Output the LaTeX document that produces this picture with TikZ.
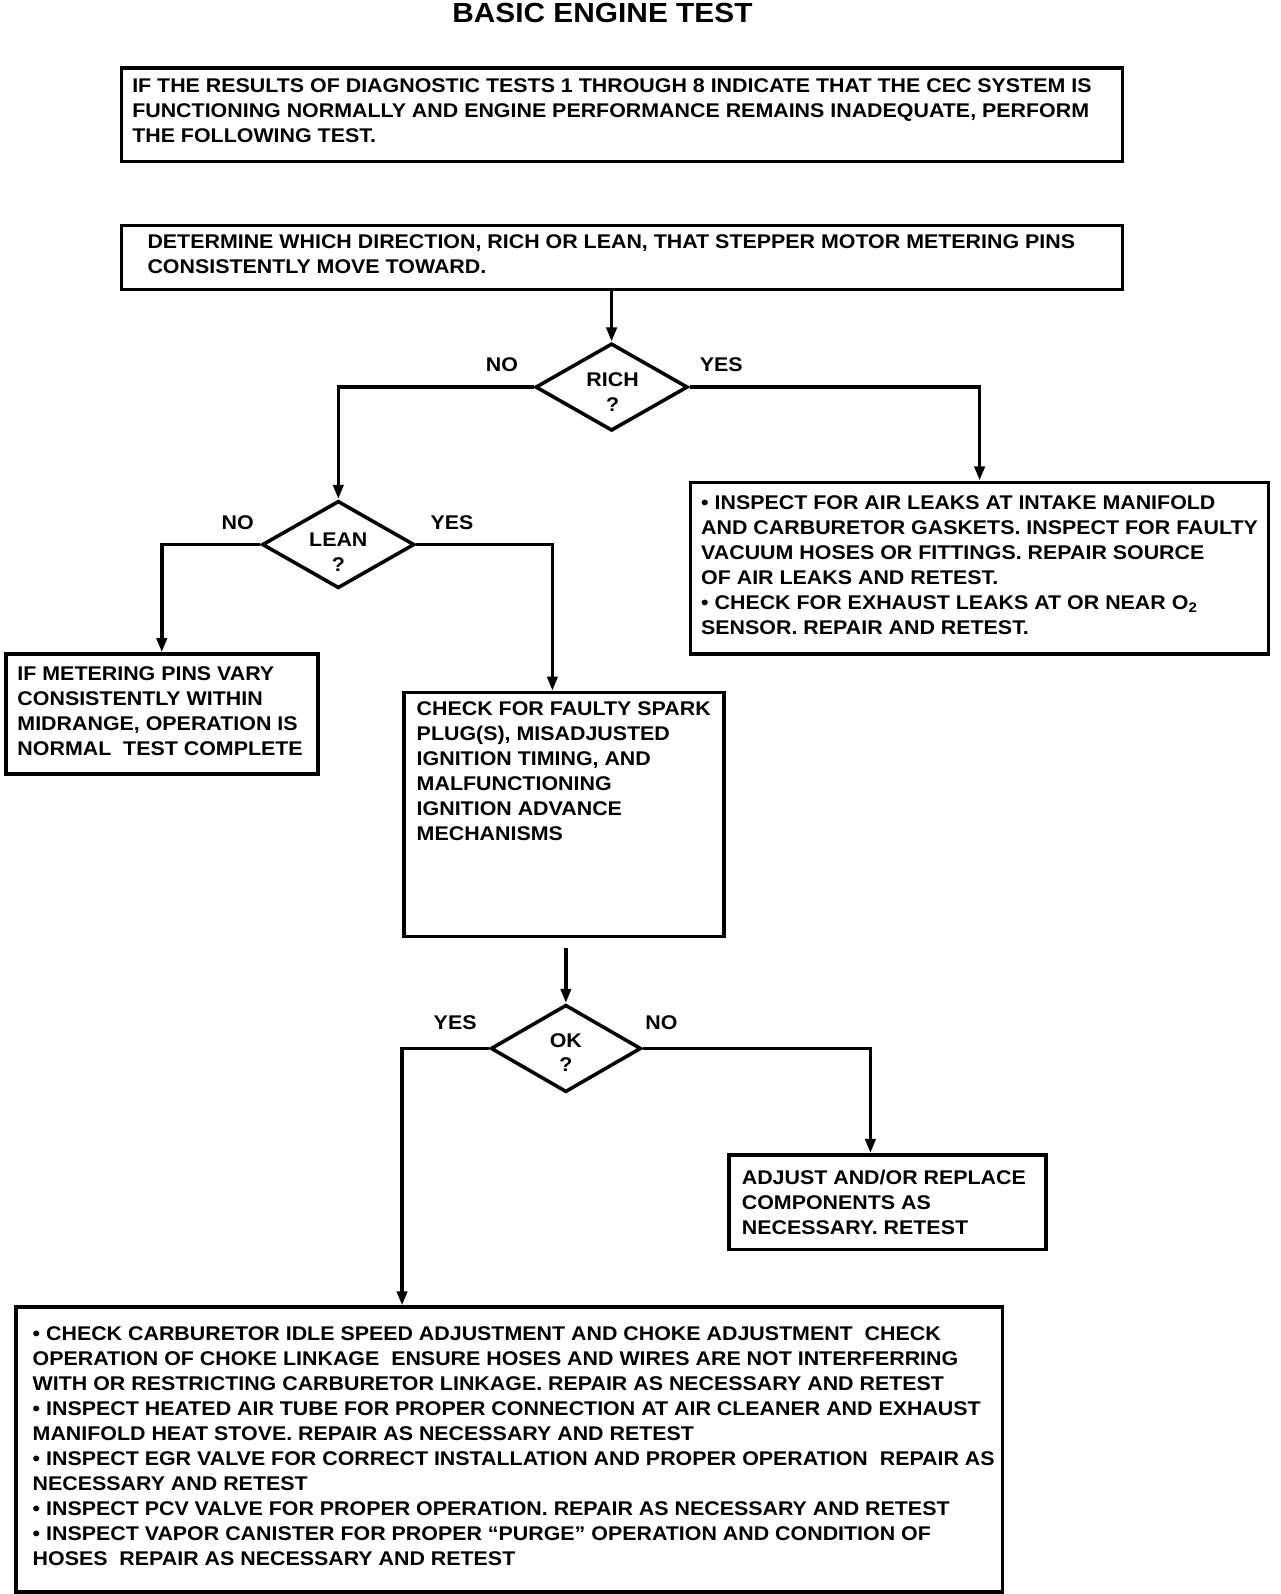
\documentclass[tikz,border=0pt]{standalone}
\usepackage{fontspec}
\setmainfont{Liberation Sans}
\newfontfamily\boxfont{Liberation Sans}[FakeStretch=1.08]
\usetikzlibrary{shapes.geometric,arrows.meta,calc}
\tikzset{
  box/.style={draw, line width=3.5pt, inner sep=0pt, anchor=north west},
  txt/.style={inner sep=0pt, anchor=north west, align=left, font=\boxfont\fontsize{19.5}{24.6}\selectfont\bfseries},
  dia/.style={draw, shape=diamond, line width=3.5pt, inner sep=0pt, minimum width=150pt, minimum height=86pt},
  arr/.style={line width=3.5pt, -{Triangle[length=14pt,width=10pt]}},
  lbl/.style={inner sep=0pt, font=\boxfont\fontsize{19.5}{24}\selectfont\bfseries},
  ttl/.style={inner sep=0pt, font=\boxfont\fontsize{27.2}{30}\selectfont\bfseries}
}
\begin{document}
\begin{tikzpicture}[x=1pt,y=-1pt]
\useasboundingbox (0,0) rectangle (1260,1569);
\node[ttl] (title) at (593,13) {BASIC ENGINE TEST};
% boxes
\node[box, minimum width=985pt, minimum height=92pt] (b1) at (118,65) {};
\node[box, minimum width=985pt, minimum height=63pt] (b2) at (118,220) {};
\node[box, minimum width=569pt, minimum height=169pt] (rb) at (678,473) {};
\node[box, minimum width=307pt, minimum height=118pt] (b3) at (4,642) {};
\node[box, minimum width=315pt, minimum height=240pt] (b4) at (396,680) {};
\node[box, minimum width=312pt, minimum height=93pt] (b5) at (716,1135) {};
\node[box, minimum width=971pt, minimum height=280pt] (bb) at (14,1285) {};
% texts
\node[txt] (t1) at (130,77) {IF THE RESULTS OF DIAGNOSTIC TESTS 1 THROUGH 8 INDICATE THAT THE CEC SYSTEM IS\\ FUNCTIONING NORMALLY AND ENGINE PERFORMANCE REMAINS INADEQUATE, PERFORM\\ THE FOLLOWING TEST.};
\node[txt] (t2) at (145,231) {DETERMINE WHICH DIRECTION, RICH OR LEAN, THAT STEPPER MOTOR METERING PINS\\ CONSISTENTLY MOVE TOWARD.};
\node[txt] (trb) at (690,488) {• INSPECT FOR AIR LEAKS AT INTAKE MANIFOLD\\ AND CARBURETOR GASKETS. INSPECT FOR FAULTY\\ VACUUM HOSES OR FITTINGS. REPAIR SOURCE\\ OF AIR LEAKS AND RETEST.\\ • CHECK FOR EXHAUST LEAKS AT OR NEAR O\textsubscript{2}\\ SENSOR. REPAIR AND RETEST.};
\node[txt] (t3) at (17,656) {IF METERING PINS VARY\\ CONSISTENTLY WITHIN\\ MIDRANGE, OPERATION IS\\ NORMAL\ \ TEST COMPLETE};
\node[txt] (t4) at (410,690) {CHECK FOR FAULTY SPARK\\ PLUG(S), MISADJUSTED\\ IGNITION TIMING, AND\\ MALFUNCTIONING\\ IGNITION ADVANCE\\ MECHANISMS};
\node[txt] (t5) at (730,1152) {ADJUST AND/OR REPLACE\\ COMPONENTS AS\\ NECESSARY. RETEST};
\node[txt] (tbb) at (32,1306) {• CHECK CARBURETOR IDLE SPEED ADJUSTMENT AND CHOKE ADJUSTMENT\ \ CHECK\\ OPERATION OF CHOKE LINKAGE\ \ ENSURE HOSES AND WIRES ARE NOT INTERFERRING\\ WITH OR RESTRICTING CARBURETOR LINKAGE. REPAIR AS NECESSARY AND RETEST\\ • INSPECT HEATED AIR TUBE FOR PROPER CONNECTION AT AIR CLEANER AND EXHAUST\\ MANIFOLD HEAT STOVE. REPAIR AS NECESSARY AND RETEST\\ • INSPECT EGR VALVE FOR CORRECT INSTALLATION AND PROPER OPERATION\ \ REPAIR AS\\ NECESSARY AND RETEST\\ • INSPECT PCV VALVE FOR PROPER OPERATION. REPAIR AS NECESSARY AND RETEST\\ • INSPECT VAPOR CANISTER FOR PROPER “PURGE” OPERATION AND CONDITION OF\\ HOSES\ \ REPAIR AS NECESSARY AND RETEST};
% diamonds
\node[dia] (rich) at (602,381) {};
\node[dia] (lean) at (333,536) {};
\node[dia, minimum width=148pt] (ok) at (557,1032) {};
\node[lbl] (rich1) at (603,374) {RICH};
\node[lbl] (rich2) at (603,398) {?};
\node[lbl] (lean1) at (333,531) {LEAN};
\node[lbl] (lean2) at (333,556) {?};
\node[lbl] (ok1) at (557,1024) {OK};
\node[lbl] (ok2) at (557,1048) {?};
% labels
\node[lbl] (l1) at (494,359) {NO};
\node[lbl] (l2) at (710,359) {YES};
\node[lbl] (l3) at (234,514) {NO};
\node[lbl] (l4) at (445,514) {YES};
\node[lbl] (l5) at (448,1007) {YES};
\node[lbl] (l6) at (651,1007) {NO};
% connectors
\draw[arr] (b2.south -| rich.north) -- (rich.north);
\draw[arr] (rich.west) -| (lean.north);
\draw[arr] (rich.east) -| (rb.north);
\draw[arr] (lean.west) -| (b3.north);
\draw[arr] (lean.east) -| ([xshift=-11.5pt]b4.north);
\draw[arr] ([yshift=-10pt]b4.south -| ok.north) -- (ok.north);
\draw[arr] (ok.west) -| ([xshift=-105.5pt]bb.north);
\draw[arr] (ok.east) -| ([xshift=-17pt]b5.north);
\end{tikzpicture}
\end{document}
